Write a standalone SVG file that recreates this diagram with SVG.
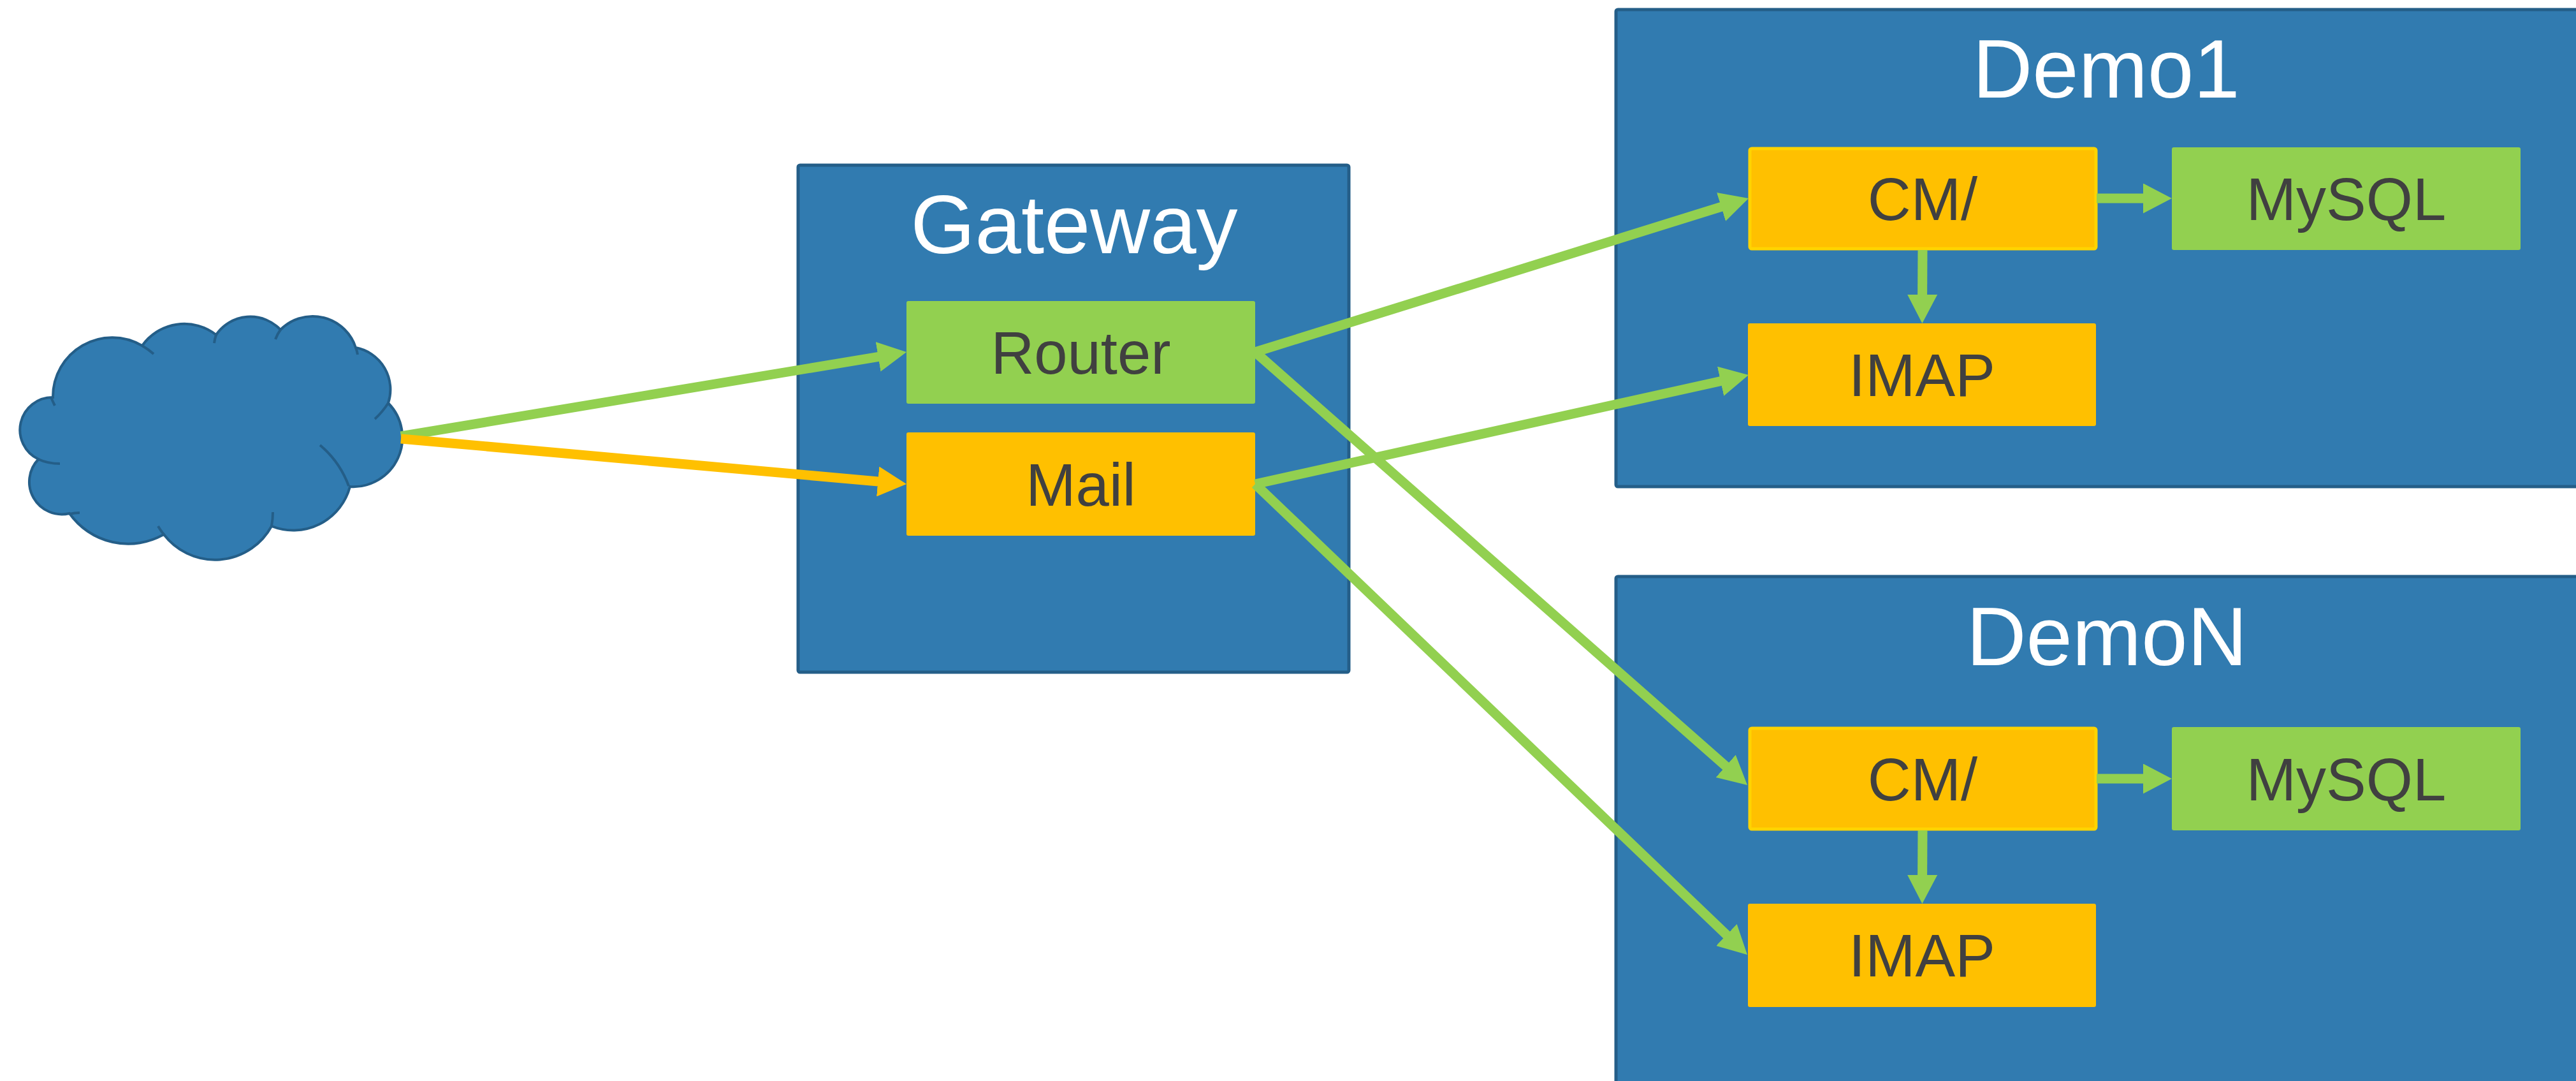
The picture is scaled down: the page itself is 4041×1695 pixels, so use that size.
<svg xmlns="http://www.w3.org/2000/svg" width="4041" height="1695" viewBox="0 0 4041 1695">
<defs>
<style>
.cont{fill:#317BB0;stroke:#245E88;stroke-width:5}
.title{font-family:"Liberation Sans",Arial,sans-serif;font-size:130px;fill:#ffffff;text-anchor:middle}
.lbl{font-family:"Liberation Sans",Arial,sans-serif;font-size:94px;fill:#404040;text-anchor:middle}
.green{fill:#92D050}
.orange{fill:#FFC000}
.cm{fill:#FFC000;stroke:#FFD400;stroke-width:5}
.conn{fill:none;stroke-width:15;stroke-linecap:butt}
.g{stroke:#92D050;marker-end:url(#headG)}
.o{stroke:#FFC000;marker-end:url(#headO)}
.cloud{fill:#317BB0;stroke:#245E88;stroke-width:4}
.cloudin{fill:none;stroke:#245E88;stroke-width:4}
</style>
<marker id="headG" markerUnits="userSpaceOnUse" markerWidth="45" markerHeight="47" refX="25" refY="23.5" orient="auto" viewBox="0 0 45 47">
<path d="M0,0 L45,23.5 L0,47 Z" fill="#92D050"/>
</marker>
<marker id="headO" markerUnits="userSpaceOnUse" markerWidth="45" markerHeight="47" refX="25" refY="23.5" orient="auto" viewBox="0 0 45 47">
<path d="M0,0 L45,23.5 L0,47 Z" fill="#FFC000"/>
</marker>
</defs>
<rect width="4041" height="1695" fill="#ffffff"/>

<g id="internet">
<path class="cloud" d="M60.3,720 A51,51 0 0 1 83,623 A93,93 0 0 1 223,542 A81,81 0 0 1 339,525 A65,65 0 0 1 440,517 A71,71 0 0 1 558,545 A67,67 0 0 1 609,632 A77,77 0 0 1 549,763 A92,92 0 0 1 426,825 A101,101 0 0 1 257,838 A113,113 0 0 1 109,805 A51,51 0 0 1 60.3,720 Z"/>
<path class="cloudin" d="M80,623 Q83,630 86,636 M223,542 Q233,548 241,555 M339,525 Q337,531 336,538 M440,517 Q435,524 432,532 M558,545 Q560,550 561,556 M609,632 Q600,646 588,657 M502,698 Q533,724 547,762 M426,825 Q428,814 428,803 M257,838 Q252,832 248,825 M109,806 Q117,804 125,804 M60,720 Q75,727 94,727"/>
</g>

<g id="gateway">
<rect class="cont" x="1252" y="259" width="864" height="795" rx="3"/>
<text class="title" x="1685" y="397">Gateway</text>
</g>
<g id="router">
<rect class="green" x="1422" y="472" width="547" height="161" rx="3"/>
<text class="lbl" x="1695.5" y="586">Router</text>
</g>
<g id="mail">
<rect class="orange" x="1422" y="678" width="547" height="162" rx="3"/>
<text class="lbl" x="1695.5" y="793">Mail</text>
</g>

<g id="demo1">
<rect class="cont" x="2535" y="15" width="1530" height="748" rx="3"/>
<text class="title" x="3304" y="153">Demo1</text>
</g>
<g id="cm1">
<rect class="cm" x="2745" y="233" width="543" height="157" rx="3"/>
<text class="lbl" x="3016" y="345">CM/</text>
</g>
<g id="mysql1">
<rect class="green" x="3407" y="231" width="547" height="161" rx="3"/>
<text class="lbl" x="3680.5" y="345">MySQL</text>
</g>
<g id="imap1">
<rect class="orange" x="2742" y="507" width="546" height="161" rx="3"/>
<text class="lbl" x="3015" y="621">IMAP</text>
</g>

<g id="demoN">
<rect class="cont" x="2535" y="904" width="1530" height="820" rx="3"/>
<text class="title" x="3305" y="1043">DemoN</text>
</g>
<g id="cmN">
<rect class="cm" x="2745" y="1142" width="543" height="158" rx="3"/>
<text class="lbl" x="3016" y="1255">CM/</text>
</g>
<g id="mysqlN">
<rect class="green" x="3407" y="1140" width="547" height="162" rx="3"/>
<text class="lbl" x="3680.5" y="1255">MySQL</text>
</g>
<g id="imapN">
<rect class="orange" x="2742" y="1417" width="546" height="162" rx="3"/>
<text class="lbl" x="3015" y="1531">IMAP</text>
</g>

<g id="connectors">
<path class="conn g" d="M629,684 L1402.3,555.3"/>
<path class="conn o" d="M629,688 L1402.1,757.2"/>
<path class="conn g" d="M1969,552 L2723.9,316.9"/>
<path class="conn g" d="M1969,759 L2723.5,592.3"/>
<path class="conn g" d="M1969,552 L2726,1217.8"/>
<path class="conn g" d="M1969,759 L2726.5,1483.2"/>
<path class="conn g" d="M3289,311 L3387,311"/>
<path class="conn g" d="M3016,392 L3015.5,487"/>
<path class="conn g" d="M3289,1221 L3387,1221"/>
<path class="conn g" d="M3016,1302 L3015.5,1397"/>
</g>
</svg>
